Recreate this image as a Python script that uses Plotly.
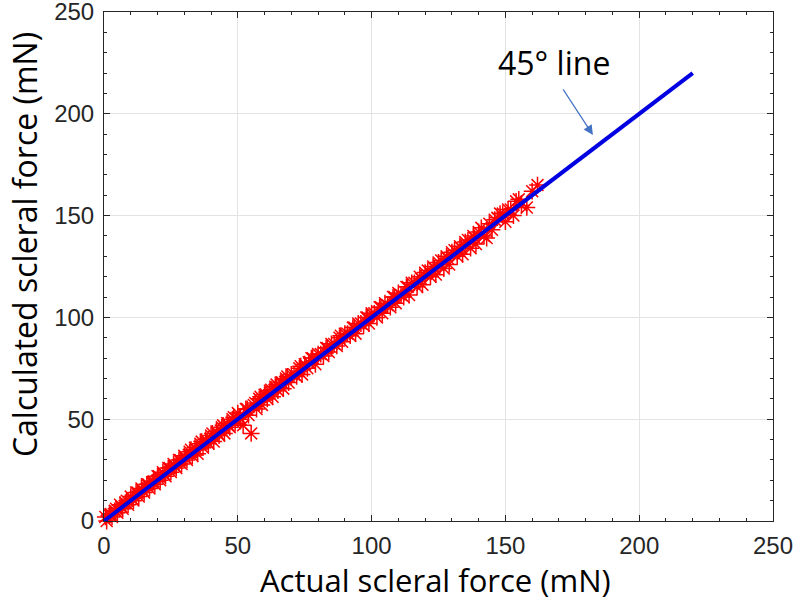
import plotly.graph_objects as go

actual = [-0.5, 1, 2, 3, 4, 5, 6, 7, 8, 9, 10, 11, 12, 13, 14, 15, 16, 17, 18, 19, 20, 21, 22, 23, 24, 25, 26, 27, 28, 29,
          30, 31, 32, 33, 34, 35, 36, 37, 38, 39, 40, 41, 42, 43, 44, 45, 46, 47, 48, 49, 50, 51, 52, 53, 55, 54, 56, 57,
          58, 59, 60, 61, 62, 63, 64, 65, 66, 67, 68, 69, 70, 72, 73, 74, 75, 76, 78, 79, 80, 82, 83, 84, 85, 87, 88, 89,
          90, 92, 93, 94, 95, 97, 98, 99, 100, 102, 103, 104, 105, 107, 108, 109, 110, 112, 113, 114, 115, 117, 118, 119,
          120, 122, 123, 124, 125, 127, 128, 129, 130, 132, 133, 134, 135, 137, 138, 139, 140, 142, 143, 144, 145, 147,
          148, 150, 151, 153, 154, 156, 158, 160, 162,
          0.5, 2.5, 4.5, 6.5, 8.5, 10.5, 12.5, 14.5, 16.5, 18.5, 20.5, 22.5, 24.5, 26.5, 28.5, 30.5, 32.5, 34.5, 36.5,
          38.5, 40.5, 42.5, 44.5, 46.5, 48.5, 50.5, 53.5, 56.5, 58.5, 60.5, 62.5, 64.5, 66.5, 68.5, 71, 73.5, 76.5, 77.5,
          81, 83.5, 86, 88.5, 91, 93.5, 96, 98.5, 101, 103.5, 106, 108.5, 111, 113.5, 116, 118.5, 121, 123.5, 126, 128.5,
          131, 133.5, 136, 138.5, 141, 146, 149, 152, 155]
calculated = [1.5, 0, 3, 2, 5, 4, 8, 6, 9, 8, 12, 10, 14, 12, 16, 14, 18, 16, 19, 18, 22, 20, 24, 22, 26, 24, 28, 26, 30, 28,
              32, 30, 34, 32, 36, 33, 38, 36, 40, 38, 42, 39, 44, 42, 46, 43, 48, 46, 50, 48, 53, 50, 47, 55, 43, 52, 57, 55,
              60, 57, 62, 60, 64, 61, 66, 64, 68, 65, 70, 68, 72, 71, 75, 72, 77, 75, 80, 77, 82, 81, 85, 83, 87, 86, 90, 88,
              92, 91, 95, 92, 97, 96, 100, 97, 102, 100, 105, 102, 107, 105, 110, 107, 112, 110, 115, 111, 117, 115, 120, 116,
              122, 120, 125, 121, 127, 124, 130, 126, 132, 130, 135, 131, 137, 134, 140, 136, 142, 140, 139, 146, 143, 149,
              151, 147, 153, 150, 157, 155, 154, 162, 165,
              2, 3.5, 6, 7, 10, 11, 14, 15, 18, 19.5, 22, 23, 26, 27, 30, 31, 35, 35, 39, 39, 43, 43, 47, 47, 51, 51, 55, 58,
              61, 62, 64.5, 67, 68, 71, 72, 76, 78, 80, 82, 85, 87, 91, 92, 95, 97, 100, 102, 105, 106, 110, 111, 115, 117,
              119, 123, 124, 128, 129, 133, 134, 138, 139, 144, 148, 151, 153, 158]

line_x = [0, 220]
line_y = [0, 220]

tick_vals = [0, 50, 100, 150, 200, 250]
tick_text = ["0", "50", "100", "150", "200", "250"]

x_title = "Actual scleral force (mN)"
y_title = "Calculated scleral force (mN)"
note_text = "45° line"
arrow_head = (182.7, 189.6)
arrow_tail = (171.2, 212.7)
note_pos = (168.2, 225.4)

fig = go.Figure()
fig.add_trace(go.Scatter(
    x=actual, y=calculated, mode="markers",
    marker=dict(symbol="asterisk-open", size=14, color="#FF0000",
                line=dict(color="#FF0000", width=1.5)),
    cliponaxis=False, showlegend=False))
fig.add_trace(go.Scatter(
    x=line_x, y=line_y, mode="lines",
    line=dict(color="#0000E0", width=4), showlegend=False))

axis_common = dict(
    range=[0, 250], tickvals=tick_vals, ticktext=tick_text, automargin=False,
    ticklabeloverflow="allow",
    showline=True, linecolor="#262626", linewidth=1, mirror="allticks",
    ticks="inside", ticklen=6, tickcolor="#262626",
    minor=dict(ticks="inside", ticklen=3, dtick=10, tickcolor="#262626", showgrid=False),
    showgrid=True, gridcolor="#E3E3E3", gridwidth=1, zeroline=False,
    tickfont=dict(family="Liberation Sans", size=24, color="#262626"),
)
fig.update_xaxes(**axis_common, ticklabelstandoff=3)
fig.update_yaxes(**axis_common, ticklabelstandoff=4)

fig.update_layout(
    width=800, height=600,
    margin=dict(l=104, r=27, t=12, b=79),
    paper_bgcolor="white", plot_bgcolor="white",
    annotations=[
        dict(text=x_title, xref="paper", yref="paper", x=0.496, y=0, yshift=-59,
             xanchor="center", yanchor="middle", showarrow=False,
             font=dict(family="Open Sans", size=31, color="black")),
        dict(text=y_title, xref="paper", yref="paper", x=0, y=0.542, xshift=-80,
             xanchor="center", yanchor="middle", showarrow=False, textangle=-90,
             font=dict(family="Open Sans", size=32, color="black")),
        dict(text=note_text, x=note_pos[0], y=note_pos[1], xref="x", yref="y",
             showarrow=False, xanchor="center", yanchor="middle",
             font=dict(family="Open Sans", size=32, color="black")),
        dict(text="", x=arrow_head[0], y=arrow_head[1], xref="x", yref="y",
             ax=arrow_tail[0], ay=arrow_tail[1], axref="x", ayref="y",
             showarrow=True, arrowhead=2, arrowsize=1.6, arrowwidth=1.2,
             arrowcolor="#4472C4"),
    ],
)

fig.write_html("out.html", config={"displayModeBar": False},
               post_script="document.body.style.margin='0';")
